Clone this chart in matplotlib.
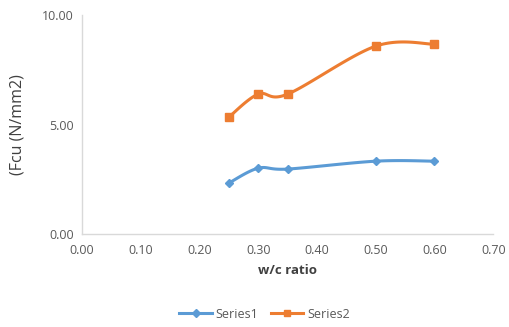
import numpy as np
import matplotlib
matplotlib.use("Agg")
import matplotlib.pyplot as plt

# w/c ratio and compressive strength values
wc_ratio = [0.25, 0.30, 0.35, 0.50, 0.60]
series1 = [2.33, 3.01, 2.97, 3.33, 3.33]
series2 = [5.34, 6.39, 6.39, 8.58, 8.67]
series_names = ["Series1", "Series2"]
x_ticks = [0.0, 0.1, 0.2, 0.3, 0.4, 0.5, 0.6, 0.7]
y_ticks = [0.0, 5.0, 10.0]


def smooth(x, y, n=30):
    """Catmull-Rom style Bezier smoothing through all points."""
    x = np.asarray(x, float)
    y = np.asarray(y, float)
    pts = np.column_stack([x, y])
    out = [pts[0]]
    for i in range(len(pts) - 1):
        p0 = pts[i - 1] if i > 0 else pts[i]
        p1 = pts[i]
        p2 = pts[i + 1]
        p3 = pts[i + 2] if i + 2 < len(pts) else pts[i + 1]
        c1 = p1 + (p2 - p0) / 6.0
        c2 = p2 - (p3 - p1) / 6.0
        t = np.linspace(0, 1, n)[1:, None]
        seg = ((1 - t) ** 3) * p1 + 3 * ((1 - t) ** 2) * t * c1 + 3 * (1 - t) * t ** 2 * c2 + t ** 3 * p2
        out.extend(seg)
    out = np.array(out)
    return out[:, 0], out[:, 1]


plt.rcParams['font.family'] = ['Open Sans', 'DejaVu Sans']
gray = "#595959"

fig = plt.figure(figsize=(5.09, 3.27), dpi=100)
ax = fig.add_axes([0.161, 0.284, 0.808, 0.670])

colors = ["#5B9BD5", "#ED7D31"]
markers = ["D", "s"]
msizes = [4.5, 5.5]
for ys, c, m, ms, name in zip([series1, series2], colors, markers, msizes, series_names):
    sx, sy = smooth(wc_ratio, ys)
    ax.plot(sx, sy, color=c, lw=2.2, solid_capstyle="round")
    ax.plot(wc_ratio, ys, ls="none", marker=m, ms=ms, color=c)
    ax.plot([], [], color=c, lw=2.2, marker=m, ms=ms - 0.5, label=name)

ax.set_xlim(0, 0.7)
ax.set_ylim(0, 10)
ax.set_xticks(x_ticks)
ax.set_yticks(y_ticks)
ax.set_xticklabels([f"{v:.2f}" for v in x_ticks])
ax.set_yticklabels([f"{v:.2f}" for v in y_ticks])
ax.tick_params(length=0, colors=gray, labelsize=9, pad=6)
ax.tick_params(axis="x", pad=7)

for side in ["top", "right"]:
    ax.spines[side].set_visible(False)
for side in ["left", "bottom"]:
    ax.spines[side].set_color("#D9D9D9")
    ax.spines[side].set_linewidth(1)

ax.set_xlabel("w/c ratio", fontsize=9.5, fontweight="bold", color="#404040", labelpad=5)
ax.set_ylabel("(Fcu (N/mm2)", fontsize=11.5, color="#404040", labelpad=12)

fig.legend(loc="lower center", bbox_to_anchor=(0.52, -0.015), ncol=2, frameon=False,
           fontsize=9, labelcolor=gray, handlelength=2.6, handletextpad=0.3,
           columnspacing=1.0)

fig.savefig("out.png", dpi=100, facecolor="white")
